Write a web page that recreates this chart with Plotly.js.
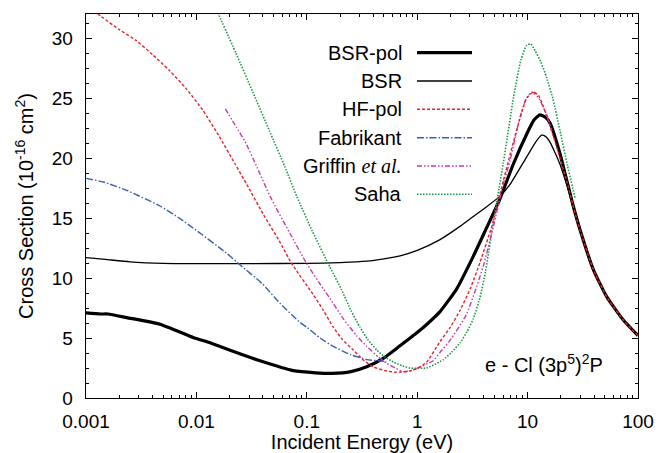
<!DOCTYPE html>
<html>
<head>
<meta charset="utf-8">
<script src="https://cdn.plot.ly/plotly-3.0.1.min.js"></script>
<style>html,body{margin:0;padding:0;background:#fff;}#plot{width:661px;height:453px;}</style>
</head>
<body>
<div id="plot"></div>
<script>
// ---- data ----
const bsrPolE = [0.001,0.00135,0.00158,0.00234,0.00468,0.00933,0.0133,0.0188,0.0377,0.0755,0.120,0.170,0.251,0.349,0.501,0.698,1.0,1.26,1.61,2.28,3.22,4.26,5.62,7.43,9.82,11.5,12.9,14.5,16.0,19.6,22.4,25.9,29.9,39.4,52.0,73.6,100];
const bsrPolS = [7.1,7.0,7.0,6.7,6.15,5.05,4.6,4.08,3.1,2.28,2.1,2.05,2.2,2.6,3.35,4.35,5.45,6.25,7.2,9.1,11.8,14.2,16.6,19.5,22.0,23.2,23.6,23.4,22.9,20.4,18.3,16.0,14.0,10.7,8.45,6.5,5.2];

const bsrE = [0.001,0.0015,0.0025,0.005,0.01,0.03,0.1,0.2,0.35,0.5,0.7,1.0,1.61,2.44,3.2,4.2,5.6,6.93,9.82,12.0,13.4,14.5,16.0,19.6,25.9,29.9,39.4,52.0,73.6,100];
const bsrS = [11.7,11.55,11.35,11.22,11.2,11.2,11.22,11.28,11.4,11.6,11.85,12.3,13.2,14.3,15.1,15.9,16.8,17.8,20.1,21.4,21.9,21.8,21.3,19.5,16.0,14.0,10.7,8.45,6.5,5.2];

const hfPolE = [0.001,0.00137,0.002,0.00284,0.00402,0.00569,0.00805,0.0114,0.0161,0.0224,0.0286,0.0404,0.0562,0.073,0.1146,0.1413,0.1738,0.209,0.2636,0.331,0.4,0.501,0.631,0.8035,1.0,1.219,1.61,1.995,2.443,3.02,3.707,4.732,6.026,7.943,9.817,11.27,12.59,14.89,18.37,22.59,27.86,29.85,39.4,52.0,73.6,100];
const hfPolS = [32.8,31.8,30.7,29.8,28.6,27.3,25.8,24.0,21.8,19.5,17.8,15.3,13.1,11.2,8.6,7.3,5.9,4.9,4.0,3.1,2.6,2.3,2.15,2.2,2.45,3.0,4.7,5.9,7.3,9.1,11.3,14.3,18.1,22.3,25.0,25.5,25.2,23.5,20.9,18.1,14.9,14.0,10.7,8.45,6.5,5.2];

const fabE = [0.001,0.00144,0.00234,0.00468,0.0071,0.00938,0.0188,0.0248,0.0398,0.0571,0.0867,0.1,0.1318,0.1738,0.251,0.349,0.4467,0.53];
const fabS = [18.3,18.0,17.3,16.0,14.95,14.15,12.06,11.1,9.5,7.9,6.3,5.9,5.0,4.3,3.6,3.2,3.1,3.05];

const griffinE = [0.0183,0.0229,0.0275,0.0355,0.0465,0.0705,0.0998,0.141,0.1622,0.2143,0.282,0.349,0.4467,0.53,0.631,0.748,0.891,1.122,1.4,1.61,1.982,2.805,3.972,4.898,6.026,6.934,8.531,9.772,10.96,12.59,14.89,16.6];
const griffinS = [24.1,22.6,21.4,19.2,16.8,13.7,11.2,9.1,8.3,6.6,5.2,4.3,3.4,2.9,2.5,2.2,2.3,2.7,3.1,3.8,4.8,7.0,11.0,14.3,17.8,19.8,23.4,25.0,25.5,25.0,23.6,22.3];

const sahaE = [0.0148,0.0229,0.0324,0.0457,0.0631,0.0811,0.1122,0.1622,0.207,0.251,0.303,0.355,0.4295,0.5129,0.608,0.724,0.861,1.219,1.445,1.726,2.042,2.443,2.818,3.221,3.707,4.169,4.898,6.026,7.43,8.71,9.817,10.72,11.75,13.18,14.89,16.98,19.63,22.9,26.9];
const sahaS = [32.6,28.7,25.5,22.3,19.3,16.8,13.9,10.9,9.0,7.3,5.9,4.9,4.0,3.4,3.0,2.7,2.5,2.5,2.8,3.2,3.8,4.6,5.5,6.6,8.4,10.6,14.7,19.6,25.0,28.2,29.4,29.5,28.9,28.0,26.7,24.9,22.3,19.4,16.7];

const seriesNames = ['BSR-pol','BSR','HF-pol','Fabrikant','Griffin <i style="font-family:\'Liberation Serif\',serif">et al.</i>','Saha'];
const xTickVals = [0.001,0.01,0.1,1,10,100];
const xTickText = ['0.001','0.01','0.1','1','10','100'];

// ---- styles ----
const styles = [
  {color:'#000000', width:3.2, dash:'solid'},
  {color:'#000000', width:1.3, dash:'solid'},
  {color:'#e8202a', width:1.4, dash:'3px,2px'},
  {color:'#3a5fb5', width:1.4, dash:'7px,2px,1.5px,2px'},
  {color:'#c43ab0', width:1.4, dash:'5px,2px,1.5px,2px,1.5px,2px'},
  {color:'#169a46', width:1.6, dash:'1.5px,1.5px'}
];
const xs = [bsrPolE,bsrE,hfPolE,fabE,griffinE,sahaE];
const ys = [bsrPolS,bsrS,hfPolS,fabS,griffinS,sahaS];
const order = [0,1,5,4,3,2];
const traces = order.map(i => ({
  type:'scatter', mode:'lines', x:xs[i], y:ys[i], name:seriesNames[i],
  line:{color:styles[i].color, width:styles[i].width, dash:styles[i].dash, shape:'spline', smoothing:0.5},
  showlegend:false, hoverinfo:'skip'
}));

// plot area geometry in pixels (for the hand-made legend)
const W=661,H=453,L=86,R=23,T=14,B=55;
const pw=W-L-R, ph=H-T-B;
const px = p => (p-L)/pw;
const py = p => (H-B-p)/ph;

const textFont = {family:'Liberation Sans, Arial, sans-serif', size:20, color:'#000'};
const annotations = [];
const shapes = [];
const rowY = [52.7,81,109.3,137.7,166,194.3];
seriesNames.forEach((n,i)=>{
  annotations.push({xref:'paper',yref:'paper',x:px(404),y:py(rowY[i]),xanchor:'right',yanchor:'middle',
    text:n,showarrow:false,font:textFont});
  shapes.push({type:'line',xref:'paper',yref:'paper',x0:px(417),x1:px(472),y0:py(rowY[i]),y1:py(rowY[i]),
    line:{color:styles[i].color,width:styles[i].width,dash:styles[i].dash}});
});
annotations.push({xref:'paper',yref:'paper',x:px(544),y:py(363),xanchor:'center',yanchor:'middle',
  text:'e - Cl (3p<sup>5</sup>)<sup>2</sup>P',showarrow:false,font:textFont});

const axisFont = {family:'Liberation Sans, Arial, sans-serif', size:19, color:'#000'};
const layout = {
  width:W, height:H,
  margin:{l:L,r:R,t:T,b:B,pad:0},
  paper_bgcolor:'#fff', plot_bgcolor:'#fff',
  font:axisFont,
  xaxis:{type:'log', range:[-3,2], tickmode:'array', tickvals:xTickVals, ticktext:xTickText,
    ticks:'inside', ticklen:6, tickwidth:1, tickcolor:'#000',
    minor:{ticks:'inside', ticklen:3, tickcolor:'#000', dtick:'D1'},
    showline:true, linecolor:'#000', linewidth:1.4, mirror:'allticks', showgrid:false, zeroline:false,
    tickfont:axisFont, ticklabelstandoff:6, automargin:false,
    title:{text:'Incident Energy (eV)', font:textFont, standoff:3}},
  yaxis:{range:[0,32], dtick:5, tick0:0,
    ticks:'inside', ticklen:6, tickwidth:1, tickcolor:'#000',
    minor:{ticks:'inside', ticklen:3, tickcolor:'#000', dtick:1.25},
    showline:true, linecolor:'#000', linewidth:1.4, mirror:'allticks', showgrid:false, zeroline:false,
    tickfont:axisFont, ticklabelstandoff:8, automargin:false,
    title:{text:'Cross Section (10<sup>-16</sup> cm<sup>2</sup>)', font:textFont, standoff:12}},
  annotations:annotations, shapes:shapes, showlegend:false
};
Plotly.newPlot('plot', traces, layout, {staticPlot:true, displayModeBar:false});
</script>
</body>
</html>
